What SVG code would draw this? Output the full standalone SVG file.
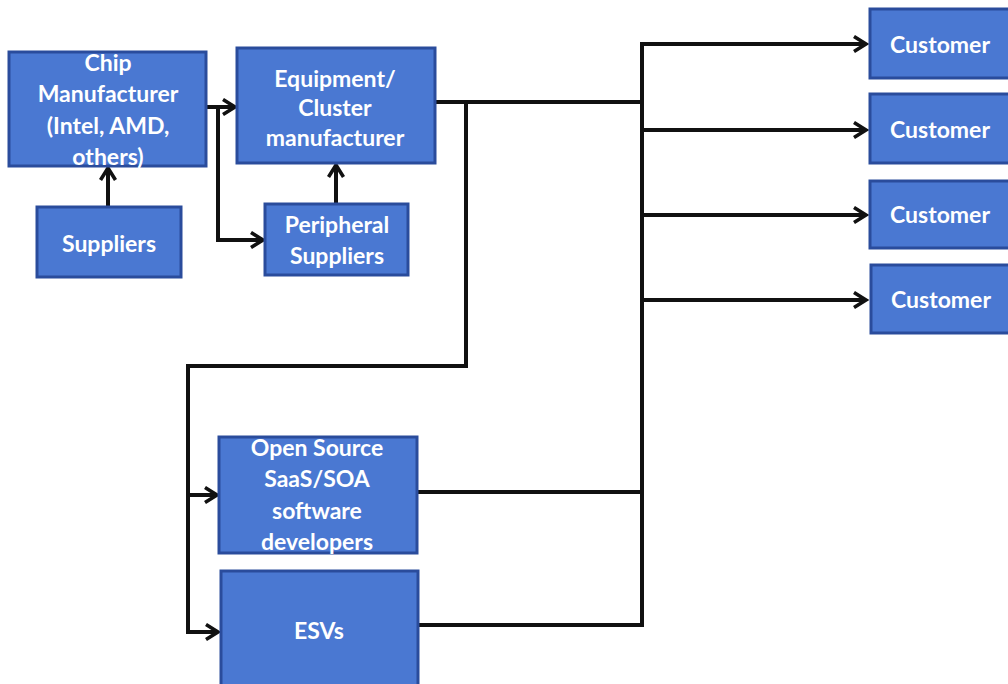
<svg xmlns="http://www.w3.org/2000/svg" width="1008" height="684" viewBox="0 0 1008 684">
<defs>
<style>
.box{fill:#4a78d2;stroke:#2a4c9c;stroke-width:3}
.t{fill:#ffffff;font-family:Lato,"Open Sans","Liberation Sans",sans-serif;font-weight:bold;font-size:23px;text-anchor:middle;dominant-baseline:central}
.c{fill:none;stroke:#111111;stroke-width:4;stroke-linejoin:miter}
</style>
<marker id="ah" viewBox="0 0 12 12" refX="10" refY="6" markerWidth="4.5" markerHeight="4.5" orient="auto" markerUnits="strokeWidth">
<path d="M2,1 L10,6 L2,11" fill="none" stroke="#111111" stroke-width="2.4"/>
</marker>
</defs>
<rect width="1008" height="684" fill="#ffffff"/>
<g id="connectors">
<line class="c" x1="108" y1="207" x2="108" y2="168" marker-end="url(#ah)"/>
<line class="c" x1="206" y1="107" x2="235" y2="107" marker-end="url(#ah)"/>
<polyline class="c" points="218,107 218,240 263,240" marker-end="url(#ah)"/>
<line class="c" x1="336" y1="204" x2="336" y2="165" marker-end="url(#ah)"/>
<line class="c" x1="435" y1="102" x2="642" y2="102"/>
<line class="c" x1="642" y1="44" x2="642" y2="627"/>
<line class="c" x1="640" y1="44" x2="866" y2="44" marker-end="url(#ah)"/>
<line class="c" x1="642" y1="130" x2="866" y2="130" marker-end="url(#ah)"/>
<line class="c" x1="642" y1="215" x2="866" y2="215" marker-end="url(#ah)"/>
<line class="c" x1="642" y1="300" x2="866" y2="300" marker-end="url(#ah)"/>
<polyline class="c" points="466,102 466,366 188,366 188,632 218,632" marker-end="url(#ah)"/>
<line class="c" x1="188" y1="495" x2="217" y2="495" marker-end="url(#ah)"/>
<line class="c" x1="417" y1="492" x2="642" y2="492"/>
<line class="c" x1="418" y1="625" x2="642" y2="625"/>
</g>
<g id="chip">
<rect class="box" x="9" y="52" width="197" height="114"/>
<text class="t" x="108" y="62">Chip</text>
<text class="t" x="108" y="93">Manufacturer</text>
<text class="t" x="108" y="125">(Intel, AMD,</text>
<text class="t" x="108" y="156">others)</text>
</g>
<g id="equipment">
<rect class="box" x="237" y="48" width="198" height="115"/>
<text class="t" x="335" y="78">Equipment/</text>
<text class="t" x="335" y="107">Cluster</text>
<text class="t" x="335" y="137">manufacturer</text>
</g>
<g id="suppliers">
<rect class="box" x="37" y="207" width="144" height="70"/>
<text class="t" x="109" y="243">Suppliers</text>
</g>
<g id="peripheral">
<rect class="box" x="265" y="204" width="143" height="71"/>
<text class="t" x="337" y="224">Peripheral</text>
<text class="t" x="337" y="255">Suppliers</text>
</g>
<g id="customer1">
<rect class="box" x="870" y="9" width="145" height="69"/>
<text class="t" x="940" y="44">Customer</text>
</g>
<g id="customer2">
<rect class="box" x="870" y="94" width="145" height="69"/>
<text class="t" x="940" y="129">Customer</text>
</g>
<g id="customer3">
<rect class="box" x="870" y="181" width="145" height="67"/>
<text class="t" x="940" y="214">Customer</text>
</g>
<g id="customer4">
<rect class="box" x="871" y="265" width="145" height="68"/>
<text class="t" x="941" y="299">Customer</text>
</g>
<g id="opensource">
<rect class="box" x="219" y="437" width="198" height="116"/>
<text class="t" x="317" y="447">Open Source</text>
<text class="t" x="317" y="478">SaaS/SOA</text>
<text class="t" x="317" y="510">software</text>
<text class="t" x="317" y="541">developers</text>
</g>
<g id="esvs">
<rect class="box" x="221" y="571" width="197" height="120"/>
<text class="t" x="319" y="630">ESVs</text>
</g>
</svg>
